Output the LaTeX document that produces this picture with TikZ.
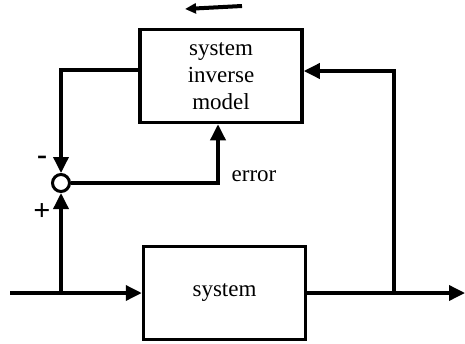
\documentclass[tikz,border=0pt]{standalone}
\usepackage{fontspec}
\setmainfont{Liberation Serif}
\usetikzlibrary{arrows.meta}
\tikzset{
    block/.style={rectangle,draw=black,line width=3.5pt,minimum width=162pt,minimum height=93pt,
        align=center,font=\fontsize{23}{27}\selectfont},
    sumnode/.style={circle,draw=black,line width=3pt,minimum size=17pt,inner sep=0},
    signal/.style={line width=3.5pt,-{Triangle[length=16pt,width=15pt]}},
    sign/.style={font=\bfseries\fontsize{30}{32}\selectfont,inner sep=0}
}

\begin{document}
\begin{tikzpicture}[x=1pt,y=-1pt]
    \useasboundingbox (0,0) rectangle (465,343);
    % the two blocks and the comparator
    \node[block] (inv) at (221,76) {system\\inverse\\model};
    \node[block] (sys) at (224.5,293) {system};
    \node[sumnode] (sum) at (61,183) {};
    % branch points on the signal line
    \coordinate (in) at (10,293);
    \coordinate (split) at (61,293);
    \coordinate (tap) at (394,293);
    \coordinate (out) at (465,293);
    \draw[signal] (in) -- (sys.west);
    \draw[signal] (sys.east) -- (out);
    \draw[signal] (split) -- (sum.south);
    \draw[signal] (tap) |- ([yshift=5pt]inv.east);
    \draw[signal] ([yshift=6pt]inv.west) -| (sum.north);
    \draw[signal] (sum.east) -| ([xshift=-3pt]inv.south);
    % labels
    \node[sign] (minus) at (42,160) {-};
    \node[sign] (plus) at (42,212) {+};
    \node[font=\fontsize{23}{27}\selectfont] (err) at (254,176) {error};
    % learning direction
    \coordinate (dirA) at (242,6);
    \coordinate (dirB) at (185,9);
    \draw[line width=4pt,-{Triangle[length=11pt,width=10pt]}] (dirA) -- (dirB);
\end{tikzpicture}
\end{document}
